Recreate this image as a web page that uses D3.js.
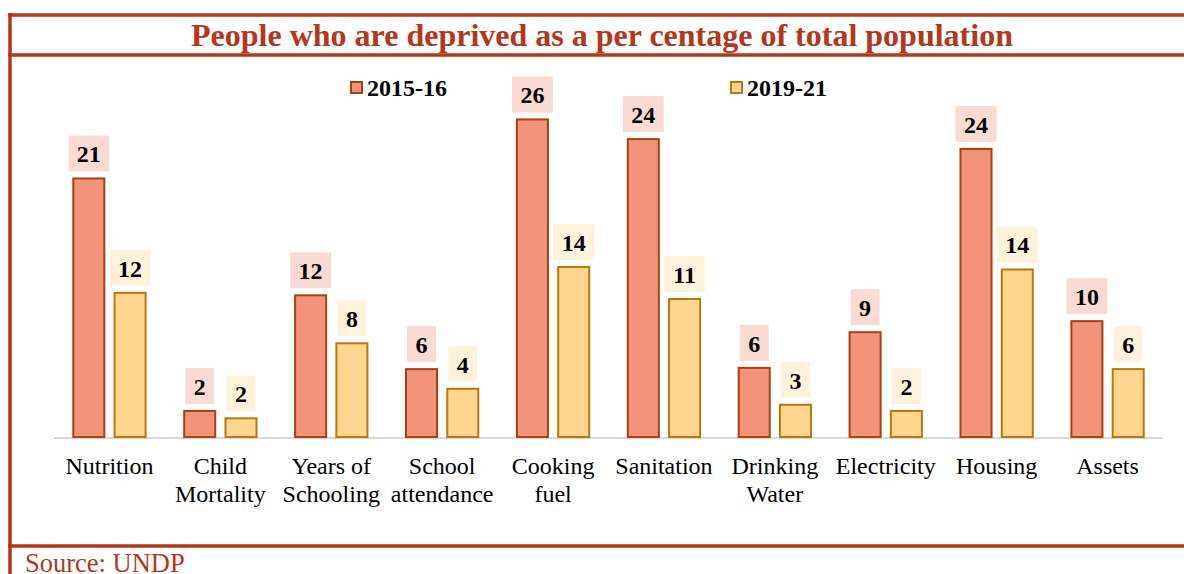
<!DOCTYPE html>
<html>
<head>
<meta charset="utf-8">
<script src="https://cdn.jsdelivr.net/npm/d3@7"></script>
<style>
  body { margin: 0; background: #fff; }
  svg { display: block; }
</style>
</head>
<body>
<div class="canvas"></div>
<script>
// data
const categories = [
  ['Nutrition'], ['Child', 'Mortality'], ['Years of', 'Schooling'], ['School', 'attendance'],
  ['Cooking', 'fuel'], ['Sanitation'], ['Drinking', 'Water'], ['Electricity'], ['Housing'], ['Assets']
];
const seriesNames = ['2015-16', '2019-21'];
const values2015 = [21.1, 2.2, 11.6, 5.6, 25.9, 24.3, 5.7, 8.6, 23.5, 9.5];
const values2019 = [11.8, 1.6, 7.7, 4.0, 13.9, 11.3, 2.7, 2.2, 13.7, 5.6];

const W = 1184, H = 574;
const red = '#b5361a';
const fills = ['#f4937b', '#ffd690'];
const strokes = ['#a5420f', '#b8780e'];
const labelBg = ['#f9dbd4', '#fff2dd'];

const svg = d3.select('.canvas')
  .append('svg')
  .attr('width', W)
  .attr('height', H)
  .style('font-family', '"Liberation Serif", "Times New Roman", serif');

// frame
svg.append('line').attr('x1', 10).attr('x2', 10).attr('y1', 13).attr('y2', H)
  .attr('stroke', red).attr('stroke-width', 3.5);
[15, 55, 546].forEach(y => {
  svg.append('line').attr('x1', 8.25).attr('x2', W).attr('y1', y).attr('y2', y)
    .attr('stroke', red).attr('stroke-width', 3.5);
});

svg.append('text')
  .attr('x', 602).attr('y', 46)
  .attr('text-anchor', 'middle')
  .attr('font-size', 32).attr('font-weight', 'bold')
  .attr('fill', red)
  .text('People who are deprived as a per centage of total population');

svg.append('text')
  .attr('x', 25).attr('y', 572)
  .attr('font-size', 26.5)
  .attr('fill', red)
  .text('Source: UNDP');

// scales
const x0 = d3.scaleBand()
  .domain(d3.range(categories.length))
  .range([54, 1163])
  .paddingInner(0.33)
  .paddingOuter(0.165);

const x1 = d3.scaleBand()
  .domain([0, 1])
  .range([0, x0.bandwidth()])
  .paddingInner(0.2);

const y = d3.scaleLinear()
  .domain([0, 30])
  .range([438, 69]);

// baseline
svg.append('line')
  .attr('x1', 54).attr('x2', 1163)
  .attr('y1', y(0)).attr('y2', y(0))
  .attr('stroke', '#d9d9d9').attr('stroke-width', 2);

const series = [values2015, values2019];
const graph = svg.append('g');

series.forEach((vals, s) => {
  const g = graph.append('g');
  g.selectAll('rect')
    .data(vals)
    .enter().append('rect')
    .attr('x', (d, i) => x0(i) + x1(s) + 1)
    .attr('y', d => y(d))
    .attr('width', x1.bandwidth() - 2)
    .attr('height', d => y(0) - y(d) - 1)
    .attr('fill', fills[s])
    .attr('stroke', strokes[s])
    .attr('stroke-width', 2);

  const lab = g.selectAll('g.lab')
    .data(vals)
    .enter().append('g')
    .attr('class', 'lab')
    .attr('transform', (d, i) => `translate(${x0(i) + x1(s) + x1.bandwidth() / 2}, ${y(d) - 7})`);

  lab.append('rect')
    .attr('x', d => String(Math.round(d)).length > 1 ? -20.5 : -14.5)
    .attr('width', d => String(Math.round(d)).length > 1 ? 41 : 29)
    .attr('y', -36)
    .attr('height', 36)
    .attr('fill', labelBg[s]);

  lab.append('text')
    .attr('text-anchor', 'middle')
    .attr('y', -9)
    .attr('font-size', 24)
    .attr('font-weight', 'bold')
    .attr('fill', '#000')
    .text(d => Math.round(d));
});

// category labels
const cat = svg.append('g').selectAll('text')
  .data(categories)
  .enter().append('text')
  .attr('text-anchor', 'middle')
  .attr('font-size', 24)
  .attr('fill', '#000');

cat.selectAll('tspan')
  .data((d, i) => d.map(t => ({ t, i })))
  .enter().append('tspan')
  .attr('x', d => x0(d.i) + x0.bandwidth() / 2)
  .attr('y', (d, j) => 474 + j * 28)
  .text(d => d.t);

// legend
const legendX = [350, 730];
seriesNames.forEach((name, s) => {
  svg.append('rect')
    .attr('x', legendX[s] + 1).attr('y', 82)
    .attr('width', 11).attr('height', 11)
    .attr('fill', fills[s])
    .attr('stroke', strokes[s]).attr('stroke-width', 2);
  svg.append('text')
    .attr('x', legendX[s] + 17).attr('y', 96)
    .attr('font-size', 24).attr('font-weight', 'bold')
    .text(name);
});
</script>
</body>
</html>
